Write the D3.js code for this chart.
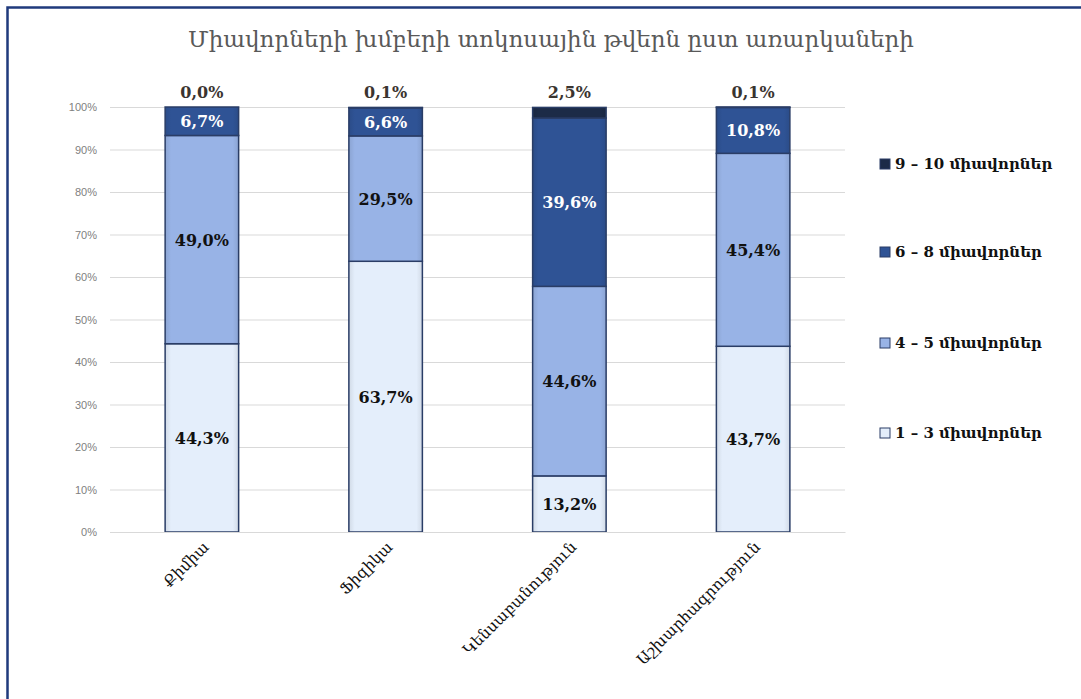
<!DOCTYPE html>
<html>
<head>
<meta charset="utf-8">
<script src="https://cdn.jsdelivr.net/npm/d3@7"></script>
<style>
  body { margin: 0; background: #fff; }
  svg { display: block; }
</style>
</head>
<body>
<div id="chart"></div>
<script>
// Data - subjects and score groups
const subjects = ["Քիմիա", "Ֆիզիկա", "Կենսաբանություն", "Աշխարհագրություն"]
const groups = ["1 – 3 միավորներ", "4 – 5 միավորներ", "6 – 8 միավորներ", "9 – 10 միավորներ"]
const group13 = [44.3, 63.7, 13.2, 43.7]
const group45 = [49.0, 29.5, 44.6, 45.4]
const group68 = [6.7, 6.6, 39.6, 10.8]
const group910 = [0.0, 0.1, 2.5, 0.1]
const yTicks = [0, 10, 20, 30, 40, 50, 60, 70, 80, 90, 100]
const title = "Միավորների խմբերի տոկոսային թվերն ըստ առարկաների"

const width = 1081
const height = 699
const margin = { top: 107, left: 110, right: 236, bottom: 167 }
const graphWidth = width - margin.left - margin.right
const graphHeight = height - margin.top - margin.bottom

const colors = ["#e4eefb", "#98b3e6", "#2f5395", "#1c2b47"]
const labelColors = ["#111", "#111", "#fff", "#3a3430"]
const serif = "'DejaVu Serif', serif"

const svg = d3.select("#chart").append("svg")
    .attr("width", width)
    .attr("height", height)

// chart border (top and left edges visible)
svg.append("path")
    .attr("d", `M7.5,${height} V7.5 H${width}`)
    .attr("fill", "none")
    .attr("stroke", "#1f3a7c")
    .attr("stroke-width", 2.5)

svg.append("text")
    .attr("x", 551)
    .attr("y", 47)
    .attr("text-anchor", "middle")
    .style("font-family", serif)
    .style("font-size", "23px")
    .style("fill", "#595959")
    .text(title)

const g = svg.append("g")
    .attr("transform", `translate(${margin.left}, ${margin.top})`)

const x = d3.scaleBand().domain(subjects).range([0, graphWidth]).paddingInner(0.6).paddingOuter(0.3)
const y = d3.scaleLinear().domain([0, 100]).range([graphHeight, 0])

// gridlines + y axis
const yAxis = d3.axisLeft(y).tickValues(yTicks).tickFormat(d => d + "%")
    .tickSize(-graphWidth).tickPadding(13)
const yAxisGroup = g.append("g").call(yAxis)
yAxisGroup.select(".domain").remove()
yAxisGroup.selectAll(".tick line").style("stroke", "#d9d9d9").style("stroke-width", 1)
yAxisGroup.selectAll("text")
    .style("font-family", "'Liberation Sans', Arial, sans-serif")
    .style("font-size", "11px")
    .style("fill", "#808080")

// build stacked series
const table = subjects.map((s, i) => ({
    subject: s,
    g0: group13[i], g1: group45[i], g2: group68[i], g3: group910[i]
}))
const stacked = d3.stack().keys(["g0", "g1", "g2", "g3"])(table)

const defs = svg.append("defs")
colors.forEach((c, i) => {
    const grad = defs.append("linearGradient")
        .attr("id", "grad" + i)
        .attr("x1", 0).attr("x2", 1).attr("y1", 0).attr("y2", 0)
    grad.append("stop").attr("offset", "0%").attr("stop-color", d3.color(c).darker(0.25))
    grad.append("stop").attr("offset", "8%").attr("stop-color", c)
    grad.append("stop").attr("offset", "92%").attr("stop-color", c)
    grad.append("stop").attr("offset", "100%").attr("stop-color", d3.color(c).darker(0.25))
})

const layers = g.selectAll(".layer")
    .data(stacked)
    .join("g")
    .attr("class", "layer")

layers.selectAll("rect")
    .data((d, i) => d.map(v => ({ v, i })))
    .join("rect")
    .attr("x", d => x(d.v.data.subject))
    .attr("y", d => y(d.v[1]))
    .attr("width", x.bandwidth())
    .attr("height", d => Math.max(0, y(d.v[0]) - y(d.v[1])))
    .attr("fill", d => `url(#grad${d.i})`)
    .attr("stroke", "#2a3d66")
    .attr("stroke-width", 1.5)

// data labels
const fmt = v => v.toFixed(1).replace(".", ",") + "%"
layers.selectAll("text")
    .data((d, i) => d.map(v => ({ v, i })))
    .join("text")
    .attr("x", d => x(d.v.data.subject) + x.bandwidth() / 2)
    .attr("y", d => d.i === 3 ? y(100) - 9 : y((d.v[0] + d.v[1]) / 2) + 6)
    .attr("text-anchor", "middle")
    .style("font-family", serif)
    .style("font-size", "16px")
    .style("font-weight", "bold")
    .style("fill", d => labelColors[d.i])
    .text(d => fmt(d.v[1] - d.v[0]))

// x axis
const xAxisGroup = g.append("g")
    .attr("transform", `translate(0, ${graphHeight})`)
    .call(d3.axisBottom(x).tickSize(0).tickPadding(0))
xAxisGroup.select(".domain").style("stroke", "#d9d9d9")
xAxisGroup.selectAll("text")
    .attr("text-anchor", "end")
    .attr("dy", 0)
    .attr("transform", "translate(8, 16) rotate(-45)")
    .style("font-family", serif)
    .style("font-size", "15.5px")
    .style("fill", "#111")

// legend
const legendY = [168, 256, 347, 437]
const legend = svg.append("g")
const items = legend.selectAll("g")
    .data(groups.slice().reverse())
    .join("g")
    .attr("transform", (d, i) => `translate(880, ${legendY[i]})`)
items.append("rect")
    .attr("x", 0).attr("y", -9)
    .attr("width", 10).attr("height", 10)
    .attr("fill", (d, i) => colors[3 - i])
    .attr("stroke", "#2a3d66")
    .attr("stroke-width", 1)
items.append("text")
    .attr("x", 15)
    .attr("y", 1)
    .style("font-family", serif)
    .style("font-size", "15px")
    .style("font-weight", "bold")
    .style("fill", "#111")
    .text(d => d)
</script>
</body>
</html>
